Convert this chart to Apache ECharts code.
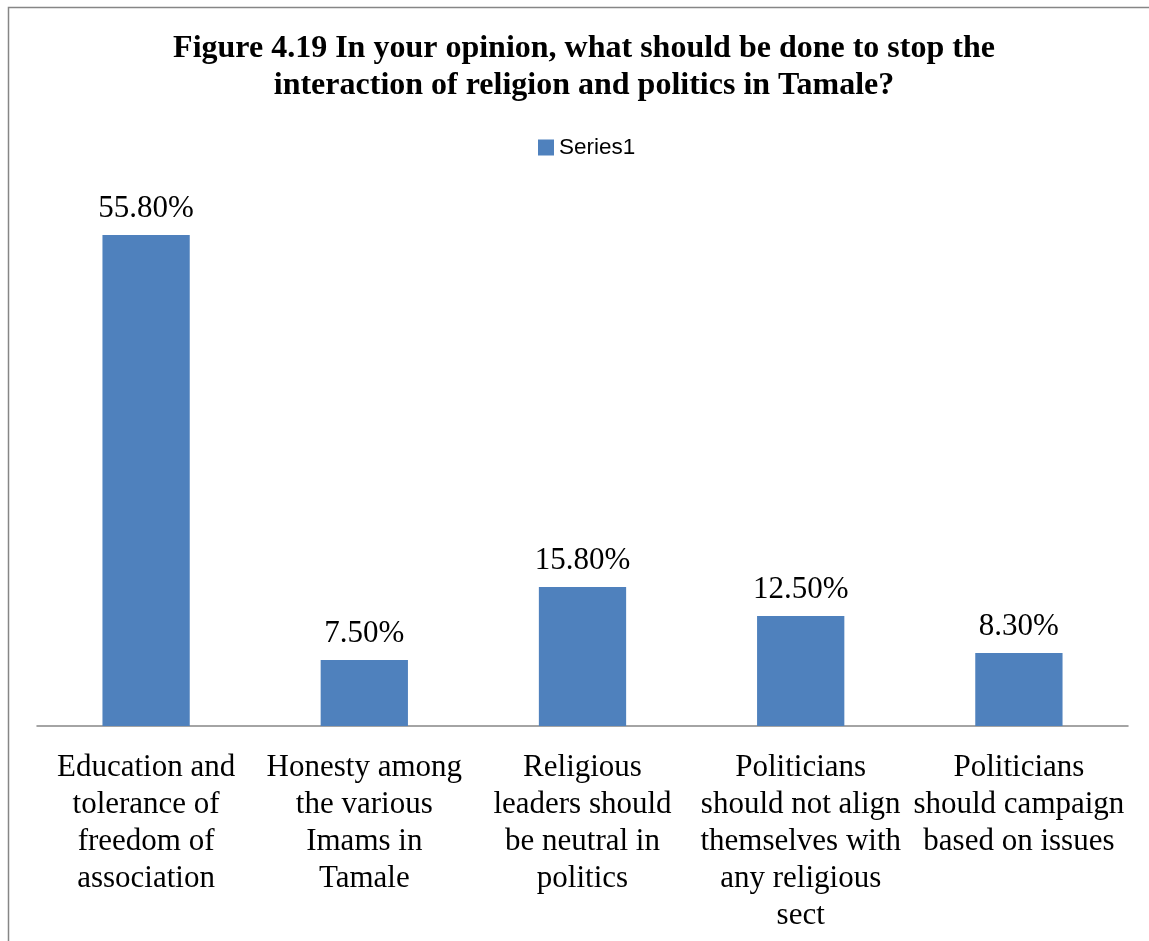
<!DOCTYPE html>
<html>
<head>
<meta charset="utf-8">
<script src="https://cdn.jsdelivr.net/npm/echarts@6/dist/echarts.min.js"></script>
<style>
  html, body { margin: 0; padding: 0; background: #fff; }
  #chart { width: 1149px; height: 941px; }
</style>
</head>
<body>
<div id="chart"></div>
<script>
// Survey responses (percent of respondents)
const categories = [
  'Education and\ntolerance of\nfreedom of\nassociation',
  'Honesty among\nthe various\nImams in\nTamale',
  'Religious\nleaders should\nbe neutral in\npolitics',
  'Politicians\nshould not align\nthemselves with\nany religious\nsect',
  'Politicians\nshould campaign\nbased on issues'
];
const seriesName = 'Series1';
const values = [55.8, 7.5, 15.8, 12.5, 8.3];

const serif = '"Liberation Serif", "Times New Roman", serif';

const chart = echarts.init(document.getElementById('chart'));
chart.setOption({
  animation: false,
  backgroundColor: '#ffffff',
  title: {
    text: 'Figure 4.19 In your opinion, what should be done to stop the\ninteraction of religion and politics in Tamale?',
    left: 579,
    top: 25,
    textAlign: 'center',
    textStyle: {
      fontFamily: serif,
      fontWeight: 'bold',
      fontSize: 32,
      lineHeight: 37,
      color: '#000'
    }
  },
  legend: {
    left: 533,
    top: 131,
    icon: 'rect',
    itemWidth: 16,
    itemHeight: 16,
    itemGap: 10,
    data: [seriesName],
    textStyle: {
      fontFamily: '"Liberation Sans", Arial, sans-serif',
      fontSize: 22.5,
      color: '#000',
      padding: [0, 0, 0, 0]
    }
  },
  graphic: [{
    type: 'rect',
    silent: true,
    shape: { x: 8.5, y: 7.5, width: 1300, height: 1100 },
    style: { fill: 'none', stroke: '#868686', lineWidth: 1.5 }
  }],
  grid: { left: 37, right: 21, top: 198, bottom: 215 },
  xAxis: {
    type: 'category',
    data: categories,
    axisTick: { show: false },
    axisLine: { lineStyle: { color: '#868686', width: 1.5 } },
    axisLabel: {
      interval: 0,
      margin: 23,
      fontFamily: serif,
      fontSize: 31,
      lineHeight: 37,
      color: '#000'
    }
  },
  yAxis: {
    type: 'value',
    min: 0,
    max: 60,
    show: false,
    splitLine: { show: false }
  },
  series: [{
    name: seriesName,
    type: 'bar',
    data: values,
    barWidth: '40%',
    itemStyle: { color: '#4F81BD' },
    label: {
      show: true,
      position: 'top',
      distance: 11,
      fontFamily: serif,
      fontSize: 31,
      color: '#000',
      formatter: p => p.value.toFixed(2) + '%'
    }
  }]
});
</script>
</body>
</html>
